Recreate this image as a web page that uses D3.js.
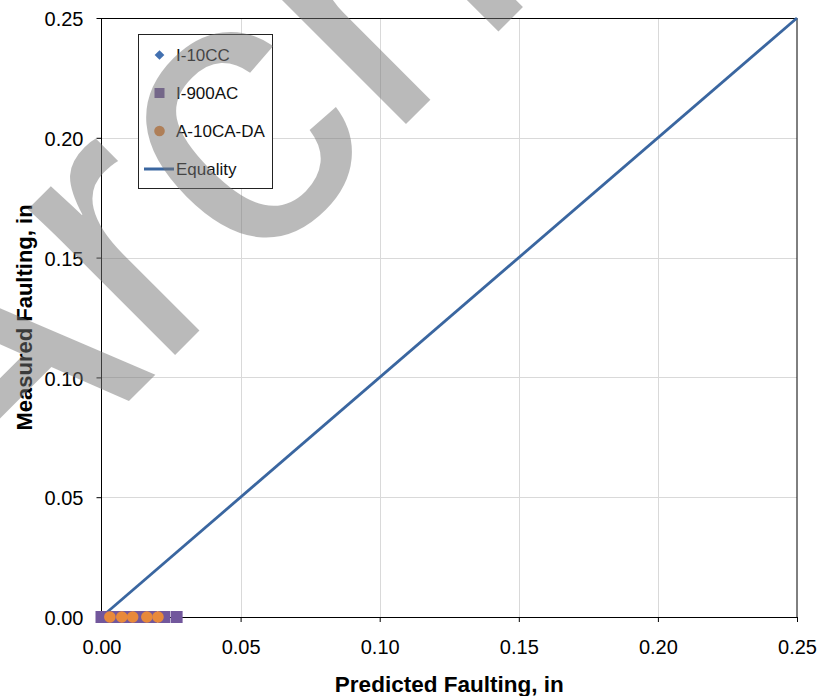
<!DOCTYPE html>
<html>
<head>
<meta charset="utf-8">
<script src="https://cdn.jsdelivr.net/npm/d3@7"></script>
<style>
  html, body { margin: 0; padding: 0; background: #fff; }
  svg { display: block; font-family: "Liberation Sans", Arial, sans-serif; }
</style>
</head>
<body>
<svg id="chart" width="819" height="696"></svg>
<script>
// ---- data ----
const seriesNames = ["I-10CC", "I-900AC", "A-10CA-DA", "Equality"];
const i10ccPredicted = [0.000, 0.004, 0.008, 0.012, 0.016];
const i10ccMeasured  = [0.000, 0.000, 0.000, 0.000, 0.000];
const i900acPredicted = [0.000, 0.003, 0.006, 0.009, 0.012, 0.015, 0.018, 0.0225, 0.027];
const i900acMeasured  = [0.000, 0.000, 0.000, 0.000, 0.000, 0.000, 0.000, 0.000, 0.000];
const a10Predicted = [0.003, 0.0073, 0.0112, 0.0163, 0.0203];
const a10Measured  = [0.000, 0.000, 0.000, 0.000, 0.000];
const equalityX = [0, 0.25];
const equalityY = [0, 0.25];
const xTicks = [0, 0.05, 0.10, 0.15, 0.20, 0.25];
const yTicks = [0, 0.05, 0.10, 0.15, 0.20, 0.25];
const xTitle = "Predicted Faulting, in";
const yTitle = "Measured Faulting, in";
const watermarkText = "Archived";

(function () {
// ---- setup ----
const svg = d3.select("#chart");
const W = 819, H = 696;
const pL = 101.5, pR = 797, pT = 18, pB = 617;
const x = d3.scaleLinear().domain([0, 0.25]).range([pL, pR]);
const y = d3.scaleLinear().domain([0, 0.25]).range([pB, pT]);
const fmt = d3.format(".2f");
const font = "'Liberation Sans', Arial, sans-serif";

svg.append("rect").attr("width", W).attr("height", H).attr("fill", "#fff");

// gridlines
const grid = svg.append("g");
grid.selectAll("line.gx").data(xTicks.slice(1, -1)).join("line")
  .attr("x1", d => Math.round(x(d)) + 0.5).attr("x2", d => Math.round(x(d)) + 0.5)
  .attr("y1", pT).attr("y2", pB)
  .attr("stroke", "#d9d9d9").attr("stroke-width", 1);
grid.selectAll("line.gy").data(yTicks.slice(1, -1)).join("line")
  .attr("y1", d => Math.round(y(d)) + 0.5).attr("y2", d => Math.round(y(d)) + 0.5)
  .attr("x1", pL).attr("x2", pR)
  .attr("stroke", "#d9d9d9").attr("stroke-width", 1);

// frame
svg.append("rect")
  .attr("x", pL).attr("y", pT + 0.5)
  .attr("width", pR - pL).attr("height", pB - pT)
  .attr("fill", "none").attr("stroke", "#000").attr("stroke-width", 1);

// axes
const yAxis = d3.axisLeft(y).tickValues(yTicks).tickFormat(fmt).tickSize(5).tickPadding(13);
const gy = svg.append("g").attr("transform", `translate(${pL},0)`).call(yAxis);
gy.select(".domain").remove();
gy.selectAll(".tick line").attr("stroke", "#000");
gy.selectAll(".tick text").attr("font-family", font).attr("font-size", 20).attr("fill", "#000").attr("dy", "0.38em");

const xAxis = d3.axisBottom(x).tickValues(xTicks).tickFormat(fmt).tickSize(5).tickPadding(18);
const gx = svg.append("g").attr("transform", `translate(0,${pB})`).call(xAxis);
gx.select(".domain").remove();
gx.selectAll(".tick line").attr("stroke", "#000");
gx.selectAll(".tick text").attr("font-family", font).attr("font-size", 20).attr("fill", "#000");

// titles
svg.append("text")
  .attr("x", (pL + pR) / 2).attr("y", 692)
  .attr("text-anchor", "middle").attr("font-weight", "bold").attr("font-size", 22.5)
  .attr("font-family", font).attr("fill", "#000").text(xTitle);
svg.append("text")
  .attr("transform", `translate(32,${(pT + pB) / 2}) rotate(-90)`)
  .attr("text-anchor", "middle").attr("font-weight", "bold").attr("font-size", 22)
  .attr("font-family", font).attr("fill", "#000").text(yTitle);

// equality line
const line = d3.line().x(d => x(d[0])).y(d => y(d[1]));
svg.append("path")
  .datum(equalityX.map((v, i) => [v, equalityY[i]]))
  .attr("d", line).attr("fill", "none").attr("stroke", "#3a66a0").attr("stroke-width", 2.8);

// series markers
const diamond = d3.symbol().type(d3.symbolDiamond2).size(70);
svg.append("g").selectAll("path").data(i10ccPredicted.map((v, i) => [v, i10ccMeasured[i]])).join("path")
  .attr("d", diamond).attr("transform", d => `translate(${x(d[0])},${y(d[1])})`)
  .attr("fill", "#4270b0");
svg.append("g").selectAll("rect").data(i900acPredicted.map((v, i) => [v, i900acMeasured[i]])).join("rect")
  .attr("x", d => x(d[0]) - 6).attr("y", d => y(d[1]) - 6)
  .attr("width", 12).attr("height", 12)
  .attr("fill", "#72579c");
svg.append("g").selectAll("circle").data(a10Predicted.map((v, i) => [v, a10Measured[i]])).join("circle")
  .attr("cx", d => x(d[0])).attr("cy", d => y(d[1])).attr("r", 5.8)
  .attr("fill", "#e8893a");

// legend
const lg = svg.append("g");
lg.append("rect").attr("x", 138.5).attr("y", 34.5).attr("width", 134).attr("height", 154)
  .attr("fill", "#fff").attr("stroke", "#222").attr("stroke-width", 1);
const rows = [55, 93, 131, 169];
lg.append("path").attr("d", d3.symbol().type(d3.symbolDiamond2).size(60))
  .attr("transform", `translate(159.5,${rows[0]})`).attr("fill", "#4270b0");
lg.append("rect").attr("x", 154.5).attr("y", rows[1] - 5).attr("width", 10).attr("height", 10).attr("fill", "#72579c");
lg.append("circle").attr("cx", 159.5).attr("cy", rows[2]).attr("r", 5.3).attr("fill", "#e8893a");
lg.append("line").attr("x1", 144).attr("x2", 174).attr("y1", rows[3]).attr("y2", rows[3])
  .attr("stroke", "#3a66a0").attr("stroke-width", 3);
lg.selectAll("text").data(seriesNames).join("text")
  .attr("x", 176).attr("y", (d, i) => rows[i] + 6)
  .attr("font-family", font).attr("font-size", 17).attr("fill", "#111").text(d => d);

// watermark overlay
svg.append("text")
  .attr("transform", "translate(-29,559) rotate(-45)")
  .attr("font-family", font).attr("font-size", 392)
  .attr("fill", "#777").attr("opacity", 0.5)
  .text(watermarkText);
})();
</script>
</body>
</html>
